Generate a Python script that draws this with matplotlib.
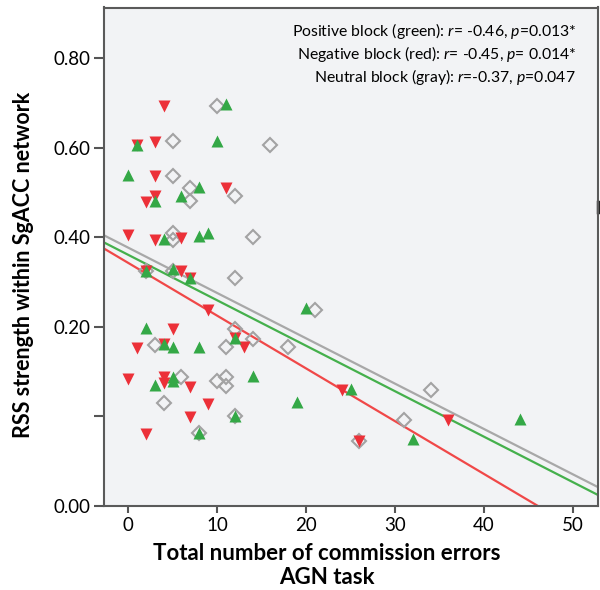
import numpy as np
import matplotlib
matplotlib.use("Agg")
from matplotlib import pyplot as plt

plt.rcParams['font.family'] = ['Lato', 'DejaVu Sans']
plt.rcParams['mathtext.fontset'] = 'custom'
plt.rcParams['mathtext.rm'] = 'Lato'
plt.rcParams['mathtext.it'] = 'Lato:italic'

# commission errors (x) and RSS strength (y), one list per block
pos_x = [11, 1, 10, 0, 8, 3, 6, 4, 8, 9, 2, 5, 7, 20, 12, 2, 4, 5, 8, 3, 5, 5,
         14, 19, 25, 12, 8, 32, 44]
pos_y = [0.697, 0.607, 0.616, 0.540, 0.513, 0.482, 0.493, 0.396, 0.403, 0.409,
         0.325, 0.329, 0.310, 0.241, 0.176, 0.198, 0.161, 0.156, 0.156, 0.070,
         0.087, 0.079, 0.090, 0.032, 0.062, 0.002, -0.037, -0.051, -0.005]

neg_x = [4, 1, 3, 3, 11, 2, 3, 0, 3, 6, 2, 6, 7, 9, 5, 12, 13, 1, 4, 0, 4, 4,
         7, 9, 7, 2, 24, 26, 36]
neg_y = [0.693, 0.607, 0.613, 0.536, 0.509, 0.478, 0.492, 0.406, 0.393, 0.399,
         0.325, 0.324, 0.310, 0.237, 0.195, 0.176, 0.154, 0.152, 0.161, 0.083,
         0.087, 0.075, 0.066, 0.028, -0.001, -0.039, 0.058, -0.054, -0.009]

neu_x = [10, 5, 16, 5, 7, 7, 12, 5, 5, 14, 5, 12, 12, 14, 18, 21, 3, 11, 6,
         10, 11, 11, 4, 12, 8, 26, 31, 34, 2]
neu_y = [0.694, 0.614, 0.605, 0.537, 0.511, 0.481, 0.492, 0.409, 0.393, 0.400,
         0.324, 0.308, 0.196, 0.173, 0.155, 0.238, 0.159, 0.154, 0.088, 0.079,
         0.087, 0.068, 0.029, 0.002, -0.037, -0.054, -0.007, 0.060, 0.325]

# fit lines (intercept, slope)
pos_fit = (0.361, -0.01016)
neg_fit = (0.343, -0.01179)
neu_fit = (0.377, -0.01013)

y_ticks = [-0.2, 0.0, 0.2, 0.4, 0.6, 0.8]
y_ticklabels = ['0.00', '', '0.20', '0.40', '0.60', '0.80']
x_ticks = [0, 10, 20, 30, 40, 50]

stats_lines = [
    'Positive block (green): $r$= -0.46, $p$=0.013*',
    'Negative block (red): $r$= -0.45, $p$= 0.014*',
    'Neutral block (gray): $r$=-0.37, $p$=0.047',
]

green = '#34a846'
red = '#ec3038'
gray = '#a3a3a3'

fig = plt.figure(figsize=(6.0, 5.9), dpi=100)
ax = fig.add_axes([104 / 600, 84 / 590, 494 / 600, 498.5 / 590])
ax.set_facecolor('#f2f3f5')

xmin, xmax = -2.7, 52.8
ax.set_xlim(xmin, xmax)
ax.set_ylim(-0.2, 0.913)

# regression lines
xx = np.array([xmin, xmax])
ax.plot(xx, neu_fit[0] + neu_fit[1] * xx, color='#a8a8a8', lw=1.6, zorder=2)
ax.plot(xx, pos_fit[0] + pos_fit[1] * xx, color='#45b04c', lw=1.6, zorder=2)
ax.plot(xx, neg_fit[0] + neg_fit[1] * xx, color='#f04848', lw=1.6, zorder=2)

# scatter
ax.plot(neu_x, neu_y, 'D', ms=7, mfc='none', mec=gray, mew=1.5, ls='none', zorder=3)
ax.plot(neg_x, neg_y, 'v', ms=8.5, color=red, mec='none', ls='none', zorder=4)
ax.plot(pos_x, pos_y, '^', ms=8.5, color=green, mec='none', ls='none', zorder=5)

ax.set_xticks(x_ticks)
ax.set_yticks(y_ticks)
ax.set_yticklabels(y_ticklabels)
ax.tick_params(axis='both', labelsize=13.5, colors='#555555', labelcolor='black',
               width=1.5, direction='out')
ax.tick_params(axis='y', length=7, pad=3)
ax.tick_params(axis='x', length=5, pad=3)

for s in ax.spines.values():
    s.set_color('#5a5a5a')
    s.set_linewidth(1.5)

ax.set_xlabel('Total number of commission errors\nAGN task', fontsize=16,
              fontweight='bold', linespacing=1.2)
ax.xaxis.set_label_coords(0.451, -0.074)
ax.set_ylabel('RSS strength within SgACC network', fontsize=15.5, fontweight='bold')
ax.yaxis.set_label_coords(-0.142, 0.484)

# stats text, top right
for i, line in enumerate(stats_lines):
    ax.text(0.955, 0.952 - i * 0.046, line, transform=ax.transAxes,
            ha='right', va='center', fontsize=11.3)

# small mark on the right spine
ax.plot([1.0, 1.0], [0.59, 0.61], transform=ax.transAxes, color='#222222',
        lw=2.5, clip_on=False)

fig.savefig('out.png', dpi=100)
